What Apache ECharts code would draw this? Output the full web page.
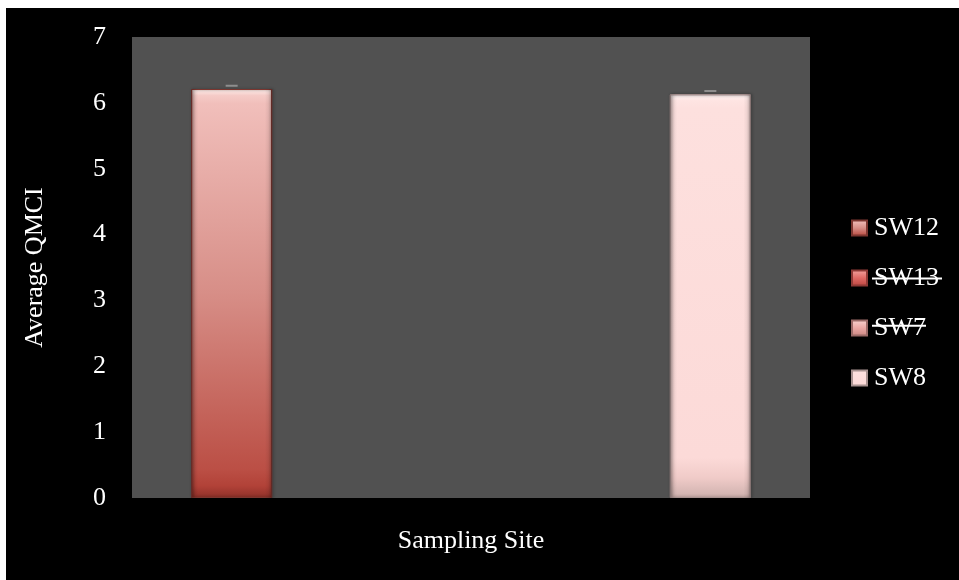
<!DOCTYPE html>
<html>
<head>
<meta charset="utf-8">
<script src="https://cdn.jsdelivr.net/npm/echarts@6/dist/echarts.min.js"></script>
<style>
  html, body { margin: 0; padding: 0; background: #ffffff; width: 959px; height: 580px; overflow: hidden; }
  #chart { position: absolute; left: 6px; top: 8px; width: 953px; height: 572px; background: #000000; }
</style>
</head>
<body>
<div id="chart"></div>
<script>
// Average QMCI per sampling site (one group, one bar per site)
const categories = ['Sampling Site'];
const siteNames = ['SW12', 'SW13', 'SW7', 'SW8'];
const meanQMCI = [6.21, null, null, 6.13];
const errQMCI = [0.05, null, null, 0.05];
const struckSites = ['SW13', 'SW7'];
const yMin = 0, yMax = 7, yStep = 1;

const FONT = '"Liberation Serif", "Times New Roman", serif';
const BAR_W = 81;
const BAR_GAP = 0.97;

// fills per site: vertical shading from light top to darker bottom
const fills = {
  SW12: [[0, '#fdf0ef'], [0.006, '#fbe2df'], [0.016, '#f5cbc7'], [0.035, '#f1bfbb'], [0.5, '#d78e87'], [0.93, '#bb4f45'], [0.97, '#b24238'], [1, '#8f3029']],
  SW13: [[0, '#f3a5a1'], [0.5, '#e06a65'], [1, '#b9443f']],
  SW7:  [[0, '#f8d4d1'], [0.5, '#eba8a4'], [1, '#c98580']],
  SW8:  [[0, '#fffafa'], [0.006, '#fff0ef'], [0.016, '#fee4e2'], [0.035, '#fde0de'], [0.9, '#fcdad8'], [0.95, '#f0cbc8'], [1, '#cdb0ad']]
};
const borders = { SW12: '#7d3630', SW13: '#8f3a36', SW7: '#9b6a67', SW8: '#a89290' };

function vGrad(stops) {
  return new echarts.graphic.LinearGradient(0, 0, 0, 1,
    stops.map(s => ({ offset: s[0], color: s[1] })));
}

const barSeries = siteNames.map((name, k) => ({
  name: name,
  type: 'bar',
  xAxisIndex: 0,
  barWidth: BAR_W,
  barGap: (BAR_GAP * 100) + '%',
  data: [meanQMCI[k] == null ? '-' : meanQMCI[k]],
  itemStyle: {
    color: vGrad(fills[name]),
    borderColor: borders[name],
    borderWidth: 1,
    shadowColor: 'rgba(0,0,0,0.45)',
    shadowBlur: 3,
    shadowOffsetX: 1
  },
  z: 2
}));

// side bevel shading laid over each bar on a twin category axis
const edgeShade = new echarts.graphic.LinearGradient(0, 0, 1, 0, [
  { offset: 0, color: 'rgba(0,0,0,0.22)' },
  { offset: 0.05, color: 'rgba(0,0,0,0.06)' },
  { offset: 0.09, color: 'rgba(0,0,0,0)' },
  { offset: 0.91, color: 'rgba(0,0,0,0)' },
  { offset: 0.95, color: 'rgba(0,0,0,0.06)' },
  { offset: 1, color: 'rgba(0,0,0,0.25)' }
]);
const shadeSeries = siteNames.map((name, k) => ({
  name: name + '-shade',
  type: 'bar',
  xAxisIndex: 1,
  barWidth: BAR_W,
  barGap: (BAR_GAP * 100) + '%',
  data: [meanQMCI[k] == null ? '-' : meanQMCI[k]],
  itemStyle: { color: edgeShade },
  silent: true,
  z: 3
}));

// error bar caps (upper)
const errData = [];
siteNames.forEach((name, k) => {
  if (meanQMCI[k] != null) errData.push([0, meanQMCI[k] + errQMCI[k], k]);
});
const errSeries = {
  name: 'err',
  type: 'custom',
  xAxisIndex: 0,
  z: 4,
  silent: true,
  data: errData,
  renderItem: function (params, api) {
    const k = api.value(2);
    const p = api.coord([api.value(0), api.value(1)]);
    const off = (k - (siteNames.length - 1) / 2) * BAR_W * (1 + BAR_GAP);
    const cx = p[0] + off;
    return {
      type: 'line',
      shape: { x1: cx - 6, y1: p[1], x2: cx + 6, y2: p[1] },
      style: { stroke: '#8e8e8e', lineWidth: 2 }
    };
  }
};

const chart = echarts.init(document.getElementById('chart'), null, { renderer: 'canvas' });

const LEGEND_TOP = 202;
const option = {
  backgroundColor: '#000000',
  animation: false,
  textStyle: { fontFamily: FONT },
  grid: {
    left: 126, top: 29, width: 678, height: 461,
    show: true, backgroundColor: '#515151', borderWidth: 0
  },
  legend: {
    orient: 'vertical',
    left: 840,
    top: LEGEND_TOP,
    data: siteNames,
    icon: 'rect',
    itemWidth: 15,
    itemHeight: 15,
    itemGap: 24,
    textStyle: { color: '#ffffff', fontFamily: FONT, fontSize: 26, lineHeight: 26, padding: [0, 0, 0, 2] },
    selectedMode: false
  },
  xAxis: [{
    type: 'category',
    data: categories,
    name: 'Sampling Site',
    nameLocation: 'middle',
    nameGap: 30,
    nameTextStyle: { color: '#ffffff', fontFamily: FONT, fontSize: 26 },
    axisLine: { show: false },
    axisTick: { show: false },
    axisLabel: { show: false }
  }, {
    type: 'category',
    data: categories,
    show: false
  }],
  yAxis: {
    type: 'value',
    min: yMin, max: yMax, interval: yStep,
    name: 'Average QMCI',
    nameLocation: 'middle',
    nameGap: 84,
    nameTextStyle: { color: '#ffffff', fontFamily: FONT, fontSize: 26 },
    axisLine: { show: false },
    axisTick: { show: false },
    splitLine: { show: false },
    axisLabel: { color: '#ffffff', fontFamily: FONT, fontSize: 26, margin: 26, padding: [6, 0, 0, 0] }
  },
  series: barSeries.concat(shadeSeries, [errSeries])
};
chart.setOption(option);

// strike through the legend names of sites without a bar
const strikeLines = [];
const itemPitch = 50;
const strikeWidths = { SW13: 70, SW7: 54 };
const strikeDrop = { SW13: 0.5, SW7: -2.3 };
siteNames.forEach((name, k) => {
  if (struckSites.indexOf(name) >= 0) {
    const y = LEGEND_TOP + 5 + 13 + k * itemPitch + strikeDrop[name];
    strikeLines.push({
      type: 'line',
      shape: { x1: 866, y1: y, x2: 866 + strikeWidths[name], y2: y },
      style: { stroke: '#ffffff', lineWidth: 2 },
      z: 10
    });
  }
});
chart.setOption({ graphic: strikeLines });
</script>
</body>
</html>
